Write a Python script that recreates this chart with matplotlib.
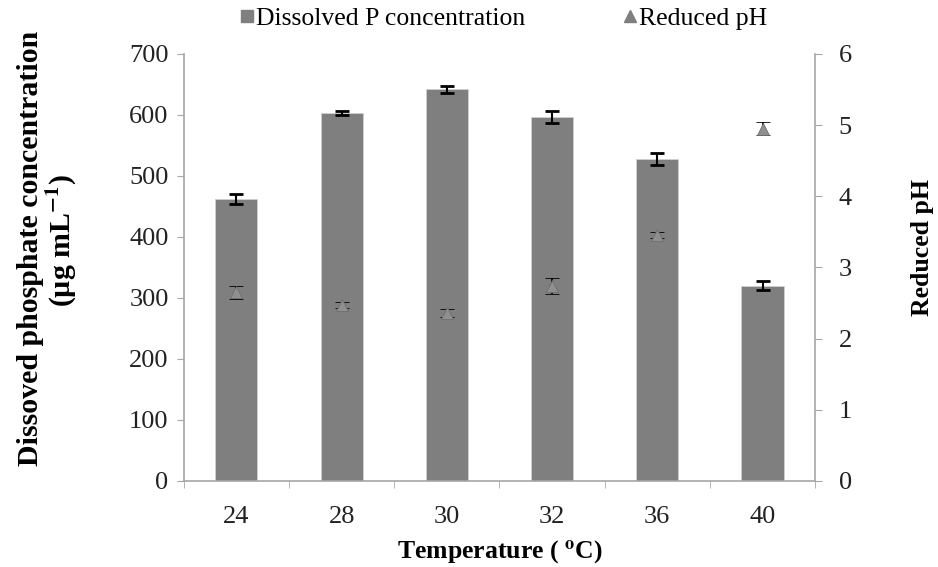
import numpy as np
import matplotlib.pyplot as plt
from matplotlib.lines import Line2D

# данные
temps = ['24', '28', '30', '32', '36', '40']
p_conc = [462, 603, 642, 597, 528, 320]
p_err = [8, 3, 6, 10, 10, 7]
ph = [2.65, 2.47, 2.36, 2.74, 3.46, 4.95]
ph_err = [0.09, 0.04, 0.05, 0.11, 0.04, 0.09]

plt.rcParams['font.family'] = ['Liberation Serif', 'DejaVu Serif']
plt.rcParams['mathtext.fontset'] = 'stix'
GRAY = '#7f7f7f'
TRI = '#8f8f8f'
SPINE = '#a6a6a6'

fig = plt.figure(figsize=(9.38, 5.67), dpi=100)
ax = fig.add_axes([0.196, 0.1517, 0.673, 0.7533])
ax2 = ax.twinx()

x = np.arange(len(temps))
ax.bar(x, p_conc, width=0.4, color=GRAY, edgecolor='#d0d0d0', linewidth=0.6, zorder=2)
ax.errorbar(x, p_conc, yerr=p_err, fmt='none', ecolor='black', elinewidth=1.5,
            capsize=5, capthick=2, zorder=3)

ax2.errorbar(x, ph, yerr=ph_err, fmt='^', markerfacecolor=TRI, markeredgecolor='#6e6e6e',
             markeredgewidth=0.6, markersize=8, ecolor='black',
             elinewidth=1.2, capsize=5, capthick=2, zorder=4)

ax.set_xlim(-0.5, len(temps) - 0.5)
ax.set_ylim(0, 700)
ax2.set_ylim(0, 6)
ax.set_yticks(range(0, 701, 100))
ax2.set_yticks(range(0, 7))

ax.set_xticks(x)
ax.set_xticklabels(temps)
ax.set_xticks(np.arange(-0.5, len(temps)), minor=True)
ax.tick_params(axis='x', which='major', length=0, labelsize=19, pad=18, colors='#222222')
ax.tick_params(axis='x', which='minor', length=5, color=SPINE, direction='out')
ax.tick_params(axis='y', length=5, color=SPINE, labelsize=19, pad=6, labelcolor='#222222')
ax2.tick_params(axis='y', length=5, color=SPINE, labelsize=19, pad=12, labelcolor='#222222')

for a in (ax, ax2):
    a.spines['top'].set_visible(False)
    for s in ('left', 'right', 'bottom'):
        a.spines[s].set_color(SPINE)
        a.spines[s].set_linewidth(1.2)
ax.spines['right'].set_visible(False)
ax2.spines['left'].set_visible(False)
ax2.spines['bottom'].set_visible(False)

fig.text(0.032, 0.562, 'Dissoved phosphate concentration', rotation=90, ha='center', va='center',
         fontsize=21.5, fontweight='bold')
fig.text(0.066, 0.575, r'(µg mL$^{\mathbf{-1}}$)', rotation=90, ha='center', va='center',
         fontsize=21.5, fontweight='bold')
fig.text(0.984, 0.563, 'Reduced pH', rotation=90, ha='center', va='center',
         fontsize=18.5, fontweight='bold')
fig.text(0.533, 0.025, r'Temperature ( $^{\mathbf{o}}$C)', ha='center', va='center',
         fontsize=18.5, fontweight='bold')

handles = [Line2D([0], [0], marker='s', color='none', markerfacecolor=GRAY, markeredgecolor=GRAY, markersize=8),
           Line2D([0], [0], marker='^', color='none', markerfacecolor=GRAY, markeredgecolor=GRAY, markersize=8)]
fig.legend(handles, ['Dissolved P concentration', 'Reduced pH'], loc='center',
           bbox_to_anchor=(0.537, 0.968), ncol=2, frameon=False, fontsize=18.5,
           handlelength=0.5, handletextpad=0.1, columnspacing=3.8)

fig.savefig('out.png', dpi=100)
